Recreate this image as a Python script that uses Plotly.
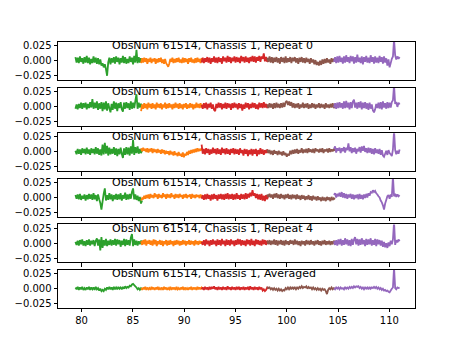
import numpy as np
import plotly.graph_objects as go
from plotly.subplots import make_subplots

# Segment frequency ranges (GHz) for the five boards
seg_start = [79.4, 85.8, 91.7, 98.1, 104.6]
seg_end = [85.9, 91.8, 98.2, 104.7, 111.0]
seg_colors = ["#2ca02c", "#ff7f0e", "#d62728", "#8c564b", "#9467bd"]

titles = ["ObsNum 61514, Chassis 1, Repeat 0", "ObsNum 61514, Chassis 1, Repeat 1",
          "ObsNum 61514, Chassis 1, Repeat 2", "ObsNum 61514, Chassis 1, Repeat 3",
          "ObsNum 61514, Chassis 1, Repeat 4", "ObsNum 61514, Chassis 1, Averaged"]

# spectra values in units of 1e-3
r0_green = [6, -3, 5, -4, 7, -2, 4, -5, 6, -3, 8, -4, 5, -6, 3, -4, 7, -3, 5, -5, 4, -6, 2, -8, -4, -11, -6, -14, -25, -3, 5, -6, 4, -3, 6, -5, 7, -2, 5, -6, 4, -3, 8, -4, 6, -5, 3, -4, 7, -2, 5, -6, 8, -3, 18, -4, 6, -3, 4, -2]
r0_orange = [-4, 4, -3, 5, -2, 4, -5, 3, -2, 5, -4, 3, -1, 4, -5, 3, -3, 4, -2, 5, -4, 2, -5, 3, -4, -7, -10, -5, 3, -2, 5, -4, 3, -3, 4, -2, 5, -3, 2, -4, 5, -3, 4, -2, 3, -5, 4, -2, 5, -3, 2, -4, 4, -3, 5, -2, 3, -4, 4, -1]
r0_red = [-3, 5, -4, 4, -2, 6, -3, 5, -5, 4, -2, 7, -3, 5, -4, 6, -2, 4, -5, 7, -1, 5, -3, 8, -2, 6, -4, 5, -1, 7, -3, 6, -2, 5, -4, 8, -1, 6, -3, 7, -2, 5, -4, 6, -1, 8, -2, 7, -3, 6, 0, 8, -2, 7, 3, 12, -1, 6, -2, 4]
r0_brown = [5, -2, 7, -3, 6, -4, 5, -2, 6, -3, 4, -5, 6, -2, 5, -4, 7, -3, 4, -2, 6, -4, 5, -1, 6, -3, 4, -5, 5, -2, 6, -3, 4, -4, 5, -2, 3, -5, 4, -3, 2, -6, 1, -7, -2, -8, 0, -7, 2, -5, 3, -4, 4, -3, 2, -5, 4, -2, 3, -1]
r0_purple = [-2, 6, -4, 7, -3, 8, -2, 5, -5, 7, -3, 9, -2, 6, -4, 8, -1, 7, -5, 6, -3, 10, -2, 5, -4, 7, -6, 6, -2, 8, -3, 5, -4, 9, -2, 6, -5, 7, -3, 5, -4, 8, -2, 6, -5, 7, -3, 4, -8, 2, -11, -4, 3, 7, 35, 9, 2, 7, 3, 6]

r1_green = [-4, 3, -5, 4, -3, 6, -4, 5, -2, 6, -5, 4, -3, 7, -2, 12, -4, 6, -3, 8, -6, 5, -4, 7, -8, 6, -5, 8, -7, 5, -3, -10, 4, -6, 8, -4, 6, -8, 5, -3, 7, -5, -9, 6, -4, 7, -3, 5, -6, 8, -4, 6, -3, 9, 20, -4, 6, -2, 4, -1]
r1_orange = [-8, 3, -4, 5, -3, 4, -5, 6, -2, 4, -4, 5, -3, 3, -5, 6, -2, 4, -3, 5, -5, 3, -2, 6, -4, 4, -3, 5, -2, 3, -5, 4, -3, 6, -2, 4, -4, 5, -3, 3, -5, 4, -2, 5, -4, 3, -3, 5, -2, 4, -5, 3, -3, 6, -2, 4, -3, 5, -2, 3]
r1_red = [2, -4, 5, -3, 6, -5, 4, -2, 6, -4, 3, -6, -8, 4, -3, 6, -2, 5, -5, 4, -3, 6, -4, 5, -2, 4, -6, 5, -3, 6, -2, 4, -5, 5, -3, 4, -7, 3, -4, 6, -2, 5, -5, 4, -3, 6, -2, 5, -4, 3, -5, 6, -2, 5, -3, 7, -2, 4, -3, 3]
r1_brown = [3, -3, 5, -2, 4, -4, 5, -3, 6, -2, 4, -3, 5, -2, 6, -1, 7, 9, 2, 8, 1, 7, -2, 5, -3, 4, -2, 5, -4, 3, -2, 6, -3, 4, -2, 5, -4, 3, -3, 5, -2, 4, -4, 3, -2, 5, -3, 4, -2, 3, -4, 5, -2, 3, -3, 4, -2, 5, -3, 2]
r1_purple = [-2, 5, -4, 6, -3, 7, -2, 5, -4, 8, -3, 9, -2, 6, -5, 7, -3, 8, 11, -2, 6, -4, 7, -2, 8, -5, 6, -3, 7, -4, 5, -6, 6, -4, 3, -7, -10, -5, 4, -3, 6, -4, 7, -5, 8, -2, 5, -4, 7, -3, 6, -2, 7, 10, 35, 4, 7, -1, 6, 3]

r2_green = [2, -4, 5, -3, 4, -5, 6, -2, 5, -4, 7, -3, 4, -5, 6, -2, 5, -4, 8, -3, 6, -5, 4, -6, 12, -4, 15, -3, 10, -6, 7, -4, 5, -3, 8, -5, 6, -7, 5, -4, 7, -3, -10, 6, -5, 8, -4, 7, -6, 9, -3, 20, -5, 8, -2, 9, -3, 5, -2, 3]
r2_orange = [6, 1, 7, 2, 5, 0, 6, -1, 5, 1, 6, -2, 5, 0, 4, -2, 5, -1, 3, -3, 4, -2, 3, -4, 2, -3, 1, -5, 2, -4, 0, -6, 1, -5, -2, -7, 0, -6, -3, -8, -1, -9, -3, -6, 0, -5, 2, -3, 3, -2, 4, -1, 5, 0, 6, 1, 5, 2, 6, 3]
r2_red = [12, -3, 5, -4, 6, -2, 5, -5, 4, -3, 7, -2, 5, -4, 6, -3, 4, -5, 7, -2, 5, -4, 6, -3, 4, -5, 5, -2, 6, -4, 5, -3, 4, -5, 6, -2, 3, -6, 5, -3, 4, -7, 3, -4, 5, -6, 4, -3, 5, -7, 3, -4, 6, -3, 4, -5, 3, -2, 4, -2]
r2_brown = [4, -2, 3, -4, 2, -5, 3, -3, 1, -5, 2, -4, 0, -6, 1, -5, -2, -8, -3, -6, 2, -4, 3, -3, 4, -2, 5, -3, 3, -1, 6, -2, 4, -1, 5, -2, 6, 0, 4, -1, 5, -2, 6, 1, 4, -1, 5, 0, 6, -2, 4, 1, 5, -1, 6, 0, 4, 1, 5, 2]
r2_purple = [5, 9, -1, 6, 2, 7, -2, 6, 1, 8, -1, 7, 3, 14, 1, 8, -2, 6, 0, 7, -3, 5, 1, 8, -1, 9, 2, 10, 0, 6, -2, 7, -1, 6, -3, 5, -4, 6, -2, 4, -3, 5, -5, 3, -6, -8, -3, 2, -5, 3, -2, -4, -7, 4, 35, 3, -4, 2, -3, 4]

r3_green = [4, -2, 5, -3, 6, -4, 3, -2, 5, -5, 4, -3, 6, -2, 5, -4, 7, -3, 4, -6, 5, -3, -9, -20, -7, 6, 15, -5, 4, -4, 7, -3, 5, -6, 4, -3, 6, -4, 5, -3, 7, -5, 4, -2, 8, -4, 5, -3, 6, -2, 9, 15, -3, 5, -4, 3, -6, 1, -10, -5]
r3_orange = [-5, -1, -3, 3, -2, 4, -1, 5, -2, 6, 0, 4, -1, 7, 1, 5, -2, 6, 0, 4, -1, 7, 1, 5, -2, 6, 0, 5, -1, 7, 1, 4, -2, 6, 0, 5, -1, 6, 1, 4, -2, 5, 0, 6, -1, 4, 1, 5, -2, 6, 0, 4, -1, 5, 1, 4, -1, 5, 0, 3]
r3_red = [-2, 4, -4, 5, -3, 6, -2, 4, -5, 5, -3, 6, -2, 4, -5, 5, -2, 6, -3, 5, -4, 6, -2, 7, -3, 5, -2, 6, -4, 5, -3, 7, -2, 4, -4, 6, -2, 5, -3, 7, -2, 6, 0, 8, 2, 12, 3, 7, -1, 6, -3, 5, -4, 6, -5, 3, -6, 4, -3, 3]
r3_brown = [5, 1, 6, 0, 5, -2, 6, 0, 7, -1, 5, -2, 6, -1, 4, -3, 5, -1, 6, -2, 4, -3, 5, -1, 4, -3, 5, -2, 3, -4, 4, -2, 3, -4, 2, -3, 4, -4, 2, -5, 3, -3, 1, -5, 2, -4, 0, -6, 1, -5, 0, -6, 1, -4, 0, -6, 1, -4, -1, -3]
r3_purple = [4, 7, 0, 6, 2, 8, 1, 9, 0, 7, -1, 6, -2, 5, 0, 6, -2, 5, -3, 4, -1, 5, -3, 6, -2, 4, -3, 5, -1, 6, 0, 7, 3, 9, 8, 12, 9, 11, 7, 5, 2, 0, -5, -8, -13, -20, -10, -4, 2, 4, -2, 5, 1, 35, 2, 6, 1, 5, 2, 4]

r4_green = [2, -3, 4, -4, 5, -2, 6, -4, 3, -5, 5, -3, 6, -4, 4, -2, 5, -5, 4, 8, -4, 6, -12, 10, -8, 5, -4, 7, -5, 4, -3, 6, -4, 5, -3, 7, -4, 6, -2, 5, -6, 4, -3, 7, -5, 6, -3, 5, -4, 9, 15, -5, 6, -3, 4, -4, 3, -2, 4, -1]
r4_orange = [3, -3, 5, -2, 6, -4, 4, -1, 5, -3, 4, -4, 6, -2, 5, -5, 3, -2, 5, -3, 4, -5, 3, -2, 5, -4, 4, -3, 5, -2, 3, -5, 4, -3, 5, -2, 4, -4, 3, -3, 5, -2, 4, -4, 3, -2, 5, -3, 4, -2, 3, -4, 5, -2, 3, -3, 4, -1, 3, -2]
r4_red = [2, -3, 5, -4, 6, -2, 4, -5, 5, -3, 6, -2, 4, -5, 6, -3, 5, -4, 7, -2, 4, -5, 6, -3, 5, -4, 6, -2, 4, -5, 5, -3, 7, -2, 6, -4, 5, -3, 4, -5, 6, -2, 5, -4, 7, -3, 4, -5, 6, -2, 5, -3, 4, -4, 6, -2, 5, -3, 4, -1]
r4_brown = [4, -2, 5, -3, 4, -2, 6, -3, 5, -4, 4, -2, 5, -3, 4, -4, 5, -2, 3, -3, 5, -1, 4, -3, 6, -2, 4, -3, 3, -5, 4, -2, 3, -4, 5, -2, 4, -3, 5, -2, 3, -4, 4, -2, 5, -3, 3, -4, 4, -2, 5, -3, 3, -2, 4, -3, 3, -2, 4, -1]
r4_purple = [3, -3, 5, -4, 6, -2, 7, -4, 5, -3, 8, -2, 6, -4, 5, -5, 7, -3, 6, 10, -2, 7, -4, 6, -3, 8, -2, 5, -5, 7, -3, 6, -2, 8, -4, 5, -3, 7, -5, 6, -2, 5, -4, 4, -6, 2, -7, 0, -8, 1, -5, 4, -2, 6, 35, -3, 5, 1, 6, 3]

av_green = [2, -1, 3, -2, 2, -1, 3, -2, 1, -2, 2, -1, 3, -2, 2, -1, 2, -2, 3, -1, 1, -3, 0, -4, -2, -4, 0, -2, 2, -1, 3, -1, 2, -2, 3, -1, 2, -1, 3, 0, 2, -1, 3, 0, 4, 1, 3, 2, 5, 4, 7, 8, 6, 4, 2, -1, 1, -2, 1, -1]
av_orange = [1, -2, 2, -1, 3, -2, 2, -1, 1, -2, 3, -1, 2, -2, 2, -1, 3, -2, 1, -1, 2, -2, 3, -1, 2, -2, 1, -1, 3, -2, 2, -1, 2, -2, 3, -1, 1, -2, 2, -1, 3, -2, 2, -1, 1, -2, 2, -1, 3, -2, 2, -1, 2, -2, 3, -1, 2, -1, 2, 0]
av_red = [-1, 2, -2, 3, -1, 2, -2, 3, -1, 3, 0, 4, -1, 2, -2, 3, -1, 2, -2, 3, -1, 2, -2, 4, -1, 2, -2, 3, -1, 2, -2, 3, -1, 3, -2, 2, -1, 3, -2, 2, -1, 3, -2, 4, -1, 2, -2, 3, -1, 2, -2, 3, -1, 2, -3, -1, -4, -2, 2, 0]
av_brown = [3, 1, 2, -1, 1, -2, 1, -2, 0, -3, 0, -3, -1, -4, -2, -3, 1, -1, 2, -1, 2, -1, 3, 0, 2, -1, 2, 0, 3, 1, 4, 1, 3, 2, 4, 0, 3, 1, 2, -1, 2, -1, 1, -2, 1, -2, 0, -3, 0, -2, -1, -4, -9, -2, 1, -1, 2, -1, 1, 0]
av_purple = [1, -1, 2, 0, 2, -1, 2, 0, 1, -1, 3, 0, 2, 0, 3, 1, 3, 1, 4, 2, 4, 3, 4, 1, 3, 0, 2, -1, 2, 0, 2, -1, 3, 0, 2, 1, 3, 1, 3, 0, 2, -1, 1, -2, 0, -3, -2, -4, -3, -5, -6, -3, 0, 2, 35, 1, -1, 2, 1, 2]

panels = [
    [r0_green, r0_orange, r0_red, r0_brown, r0_purple],
    [r1_green, r1_orange, r1_red, r1_brown, r1_purple],
    [r2_green, r2_orange, r2_red, r2_brown, r2_purple],
    [r3_green, r3_orange, r3_red, r3_brown, r3_purple],
    [r4_green, r4_orange, r4_red, r4_brown, r4_purple],
    [av_green, av_orange, av_red, av_brown, av_purple],
]

FONT = "DejaVu Sans"
W, H = 461, 346
fig = make_subplots(rows=6, cols=1, shared_xaxes=True, vertical_spacing=0.0286)

for i, segs in enumerate(panels):
    for j, vals in enumerate(segs):
        x = np.linspace(seg_start[j], seg_end[j], len(vals))
        y = np.array(vals) * 1e-3
        fig.add_trace(go.Scatter(x=x, y=y, mode="lines",
                                 line=dict(color=seg_colors[j], width=1.8, simplify=False),
                                 showlegend=False, hoverinfo="skip"),
                      row=i + 1, col=1)
    fig.add_annotation(x=82.8, y=0.025, xref=f"x{i+1}" if i else "x", yref=f"y{i+1}" if i else "y",
                       text=titles[i], showarrow=False, xanchor="left", yanchor="middle",
                       font=dict(family=FONT, size=11, color="black"))

axis_common = dict(showline=True, linecolor="black", linewidth=0.8, mirror=True,
                   ticks="outside", ticklen=3.5, tickwidth=0.8, tickcolor="black",
                   showgrid=False, zeroline=False,
                   tickfont=dict(family=FONT, size=10, color="black"))
for i in range(6):
    fig.update_xaxes(range=[77.7, 112.5], tickvals=[80, 85, 90, 95, 100, 105, 110],
                     showticklabels=(i == 5), row=i + 1, col=1, **axis_common)
    fig.update_yaxes(range=[-0.032, 0.031], tickvals=[-0.025, 0.0, 0.025],
                     tickformat=".3f", row=i + 1, col=1, **axis_common)

fig.update_layout(width=W, height=H, plot_bgcolor="white", paper_bgcolor="white",
                  margin=dict(l=57.6, r=46.1, t=41.5, b=38.1),
                  font=dict(family=FONT, size=10, color="black"))

fig.write_html("out.html")
